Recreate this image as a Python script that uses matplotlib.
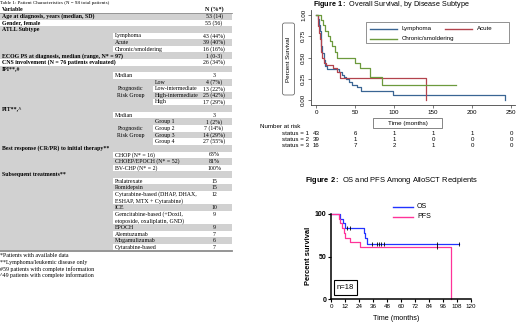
import matplotlib
matplotlib.use('Agg')
import matplotlib.pyplot as plt
from matplotlib.patches import Rectangle, FancyBboxPatch
from matplotlib.transforms import blended_transform_factory

plt.rcParams['mathtext.fontset'] = 'custom'
plt.rcParams['mathtext.rm'] = 'Liberation Sans'
plt.rcParams['mathtext.bf'] = 'Liberation Sans:bold'

SERIF = ['Liberation Serif', 'DejaVu Serif']
SANS = ['Liberation Sans', 'DejaVu Sans']

# ---------------- Table data ----------------
table_title = "Table 1: Patient Characteristics (N = 98 total patients)"
table_header = ["Variable", "N (%*)"]
row_labels = [
    "Age at diagnosis, years (median, SD)", "Gender, female", "ATLL Subtype",
    "Lymphoma", "Acute", "Chronic/smoldering",
    "ECOG PS at diagnosis, median (range, N* = 97)",
    "CNS involvement (N = 76 patients evaluated)", "IPI**,#",
    "Median", "Low", "Low-intermediate", "High-intermediate", "High",
    "PIT**,^", "Median", "Group 1", "Group 2", "Group 3", "Group 4",
    "Best response (CR/PR) to initial therapy**",
    "CHOP (N* = 16)", "CHOEP/EPOCH (N* = 52)", "BV-CHP (N* = 2)",
    "Subsequent treatments**", "Pralatrexate", "Romidepsin",
    "Cytarabine-based (DHAP, DHAX,\nESHAP, MTX + Cytarabine)", "ICE",
    "Gemcitabine-based (+Doxil,\netoposide, oxaliplatin, GND)", "EPOCH",
    "Alemtuzumab", "Mogamulizumab", "Cytarabine-based",
]
row_values = [
    "53 (14)", "55 (56)", "", "43 (44%)", "39 (40%)", "16 (16%)", "1 (0-3)",
    "26 (34%)", "", "3", "4 (7%)", "13 (22%)", "25 (42%)", "17 (29%)",
    "", "3", "1 (2%)", "7 (14%)", "14 (29%)", "27 (55%)",
    "", "63%", "81%", "100%", "", "15", "15", "12", "10", "9", "9", "7", "6", "7",
]
row_levels = [0, 0, 0, 1, 1, 1, 0, 0, 0, 1, 2, 2, 2, 2, 0, 1, 2, 2, 2, 2,
              0, 1, 1, 1, 0, 1, 1, 1, 1, 1, 1, 1, 1, 1]
risk_group_label = ["Prognostic", "Risk Group"]
risk_group_rows = [[10, 13], [16, 19]]
footnotes = ["*Patients with available data", "**Lymphoma/leukemic disease only",
             "#59 patients with complete information",
             "^49 patients with complete information"]

# ---------------- Figure 1 data ----------------
fig1_title = r"$\bf{Figure\ 1:}$ Overall Survival, by Disease Subtype"
fig1_names = ["Lymphoma", "Acute", "Chronic/smoldering"]
lymph_t = [0, 2, 4, 5, 6, 7, 8, 10, 12, 14, 29, 33, 36, 39, 42, 46, 52, 58, 99, 242]
lymph_s = [1, .95, .88, .81, .72, .63, .55, .47, .40, .37, .33, .30, .27, .25, .21, .18, .15, .11, .056, 0]
acute_t = [0, 2, 3, 4, 5, 6, 7, 8, 10, 13, 22, 27, 31, 141]
acute_s = [1, .95, .87, .79, .72, .64, .56, .49, .44, .41, .38, .33, .26, 0]
chron_t = [0, 7, 9, 11, 15, 18, 21, 24, 27, 50, 56, 69, 84, 180]
chron_s = [1, .94, .88, .81, .75, .69, .63, .56, .50, .44, .375, .27, .18, .18]
fig1_xticks = [0, 50, 100, 150, 200, 250]
fig1_yticks = [0.0, 0.25, 0.5, 0.75, 1.0]
risk_labels = ["status = 1", "status = 2", "status = 3"]
risk_counts = [[43, 6, 1, 1, 1, 0], [39, 1, 1, 0, 0, 0], [16, 7, 2, 1, 0, 0]]

# ---------------- Figure 2 data ----------------
fig2_title = r"$\bf{Figure\ 2:}$ OS and PFS Among AlloSCT Recipients"
os_t = [0, 8, 10, 12, 28, 29.5, 31, 110]
os_s = [100, 94.4, 88.9, 83.3, 77.4, 71.4, 64.9, 64.9]
pfs_t = [0, 7, 8, 9, 11, 12, 16, 25, 103]
pfs_s = [100, 94.4, 88.9, 83.3, 77.8, 72.2, 66.7, 61.1, 0]
os_cens_t = [13.5, 16.5, 35, 39, 41, 43, 45.5, 91, 110]
os_cens_s = [83.3, 83.3, 64.9, 64.9, 64.9, 64.9, 64.9, 64.9, 64.9]
pfs_cens_t = [91]
pfs_cens_s = [61.1]
fig2_xticks = list(range(0, 121, 12))
fig2_yticks = [0, 50, 100]

W, H = 520, 323
fig = plt.figure(figsize=(5.2, 3.23), dpi=100)

# ---------------- Figure 1 axes ----------------
ax1 = fig.add_axes([311 / W, 1 - 105 / H, 204 / W, 95 / H])
ax1.patch.set_alpha(0)
c_blue, c_red, c_green = "#3a6593", "#b3434d", "#6c9a3d"
ax1.step(lymph_t, lymph_s, where='post', color=c_blue, lw=0.9)
ax1.step(acute_t, acute_s, where='post', color=c_red, lw=0.9)
ax1.step(chron_t, chron_s, where='post', color=c_green, lw=0.9)
ax1.set_xlim(-6.41, 255.1)
ax1.set_ylim(-0.0588, 1.0588)
for sp in ['top', 'right']:
    ax1.spines[sp].set_visible(False)
for sp in ['left', 'bottom']:
    ax1.spines[sp].set_color('#444444')
    ax1.spines[sp].set_linewidth(0.6)
ax1.set_xticks(fig1_xticks)
ax1.set_xticklabels([str(v) for v in fig1_xticks], fontsize=4.5, family=SANS)
ax1.set_yticks(fig1_yticks)
ax1.set_yticklabels(["%.2f" % v for v in fig1_yticks], fontsize=4.5, family=SANS,
                    rotation=90, va='center')
ax1.tick_params(length=2, width=0.5, pad=1.5, color='#444444')

# ---------------- Figure 2 axes ----------------
ax2 = fig.add_axes([331 / W, 1 - 299 / H, 140 / W, 85 / H])
ax2.patch.set_alpha(0)
c_os, c_pfs = "#2233ff", "#ff3399"
ax2.step(os_t, os_s, where='post', color=c_os, lw=0.9, clip_on=False)
ax2.step(pfs_t, pfs_s, where='post', color=c_pfs, lw=0.9, clip_on=False)
ax2.plot(os_cens_t, os_cens_s, ls='none', marker='|', ms=2.5, mew=0.6, color='k', clip_on=False)
ax2.plot(pfs_cens_t, pfs_cens_s, ls='none', marker='|', ms=2.5, mew=0.6, color='k', clip_on=False)
ax2.set_xlim(0, 120)
ax2.set_ylim(0, 100)
for sp in ['top', 'right']:
    ax2.spines[sp].set_visible(False)
for sp in ['left', 'bottom']:
    ax2.spines[sp].set_linewidth(1.1)
ax2.set_xticks(fig2_xticks)
ax2.set_xticklabels([str(v) for v in fig2_xticks], fontsize=4.5, family=SANS)
ax2.set_yticks(fig2_yticks)
ax2.set_yticklabels([str(v) for v in fig2_yticks], fontsize=5, family=SANS, fontweight='bold')
ax2.tick_params(length=2, width=0.8, pad=1.5)

# ---------------- Overlay (pixel coords) ----------------
ov = fig.add_axes([0, 0, 1, 1])
ov.set_xlim(0, W)
ov.set_ylim(H, 0)
ov.axis('off')
ov.patch.set_alpha(0)

# ---- table ----
GRAY = '#d1d1d1'
XL = [0, 113, 153]
XR = 232
XV = 214
y0, lh = 9.6, 6.6
tfs = 4.2
ov.text(0, 3.0, table_title, family=SERIF, fontsize=3.6, va='center', ha='left')
ov.text(2, y0, table_header[0], family=SERIF, fontsize=tfs, fontweight='bold', va='center')
ov.text(XV, y0, table_header[1], family=SERIF, fontsize=tfs, fontweight='bold', va='center', ha='center')

nlines = [lab.count('\n') + 1 for lab in row_labels]
tops = []
line = 1
for n in nlines:
    tops.append(y0 + (line - 0.5) * lh)
    line += n
bottom = y0 + (line - 0.5) * lh
ov.add_patch(Rectangle((0, y0 + 0.5 * lh), XR, bottom - (y0 + 0.5 * lh), fc=GRAY, ec='none'))
for i, (lab, val, lev, n) in enumerate(zip(row_labels, row_values, row_levels, nlines)):
    top = tops[i]
    if i % 2 == 1:
        ov.add_patch(Rectangle((XL[lev], top), XR - XL[lev], n * lh, fc='white', ec='none'))
    for k, part in enumerate(lab.split('\n')):
        ov.text(XL[lev] + 2, top + (k + 0.5) * lh, part, family=SERIF, fontsize=tfs,
                fontweight='bold' if lev == 0 else 'normal', va='center', ha='left')
    if val:
        ov.text(XV, top + 0.5 * lh, val, family=SERIF, fontsize=tfs, va='center', ha='center')
for r0, r1 in risk_group_rows:
    yc = (tops[r0] + tops[r1] + lh) / 2
    ov.text(131, yc - lh / 2, risk_group_label[0], family=SERIF, fontsize=tfs, va='center', ha='center')
    ov.text(131, yc + lh / 2, risk_group_label[1], family=SERIF, fontsize=tfs, va='center', ha='center')
ov.plot([0, XR], [y0 + 0.5 * lh] * 2, color='#8c8c8c', lw=0.6)
ov.plot([0, XR], [bottom + 0.4] * 2, color='#8c8c8c', lw=1.3)
for k, fn in enumerate(footnotes):
    ov.text(0, 255.5 + k * 6.6, fn, family=SERIF, fontsize=tfs, va='center', ha='left')

# ---- figure 1 decorations ----
ov.text(391, 4.3, fig1_title, family=SANS, fontsize=5.2, va='center', ha='center')
ov.add_patch(FancyBboxPatch((282.5, 23), 12, 72, boxstyle='round,pad=0,rounding_size=2',
                            fc='white', ec='#555555', lw=0.5))
ov.text(288.5, 59, "Percent Survival", family=SANS, fontsize=4.5, rotation=90,
        va='center', ha='center')
ov.add_patch(Rectangle((373, 118), 69, 10, fc='white', ec='#555555', lw=0.5))
ov.text(407.5, 123, "Time (months)", family=SANS, fontsize=4.5, va='center', ha='center')
ov.add_patch(Rectangle((366, 22), 143, 21, fc='white', ec='#666666', lw=0.5))
leg = [(370, 28.7, c_blue, fig1_names[0]), (445, 28.7, c_red, fig1_names[1]),
       (370, 38.7, c_green, fig1_names[2])]
for x, y, c, name in leg:
    ov.plot([x, x + 27], [y, y], color=c, lw=1.0)
    ov.text(x + 32, y, name, family=SANS, fontsize=4.4, va='center', ha='left')

ov.text(260, 126, "Number at risk", family=SANS, fontsize=4.5, va='center', ha='left')
trans = blended_transform_factory(ax1.transData, ov.transData)
for j, (lab, counts) in enumerate(zip(risk_labels, risk_counts)):
    y = 133.3 + j * 6.2
    ov.text(309, y, lab, family=SANS, fontsize=4.4, va='center', ha='right')
    for t, n in zip(fig1_xticks, counts):
        ov.text(t, y, str(n), transform=trans, family=SANS, fontsize=4.4, va='center', ha='center')

# ---- figure 2 decorations ----
ov.text(392, 180, fig2_title, family=SANS, fontsize=5.4, va='center', ha='center')
ov.text(309, 256, "Percent survival", family=SANS, fontsize=5.4, fontweight='bold',
        rotation=90, va='center', ha='center')
ov.text(396, 319, "Time (months)", family=SANS, fontsize=5.2, va='center', ha='center')
ov.plot([393, 413], [207, 207], color=c_os, lw=1.0)
ov.text(417, 207, "OS", family=SANS, fontsize=5, va='center', ha='left')
ov.plot([393, 413], [216.7, 216.7], color=c_pfs, lw=1.0)
ov.text(417, 216.7, "PFS", family=SANS, fontsize=5, va='center', ha='left')
ov.add_patch(Rectangle((334, 280), 23, 15, fc='white', ec='black', lw=0.8))
ov.text(345.5, 287.5, "n=18", family=SANS, fontsize=5.5, va='center', ha='center')

fig.savefig('out.png', dpi=100)
